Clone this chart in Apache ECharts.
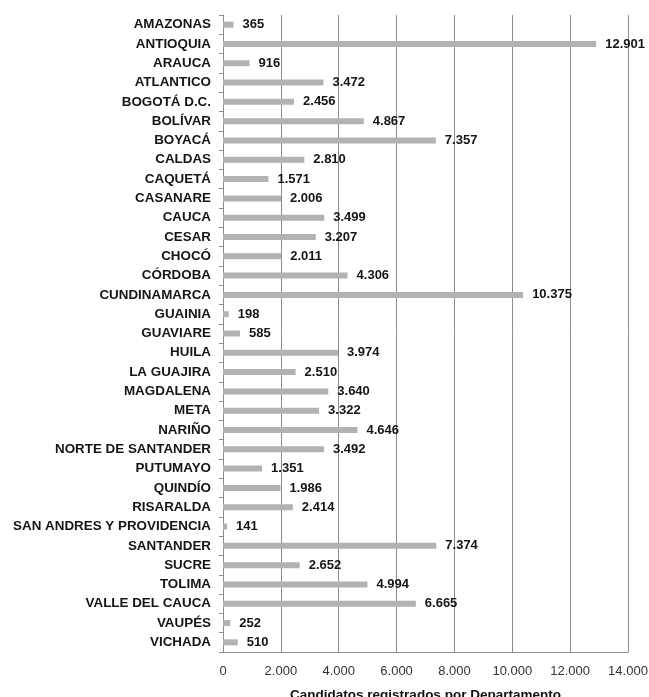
<!DOCTYPE html>
<html>
<head>
<meta charset="utf-8">
<title>Candidatos registrados por Departamento</title>
<script src="https://cdn.jsdelivr.net/npm/echarts@6/dist/echarts.min.js"></script>
<style>
  html, body { margin: 0; padding: 0; background: #ffffff; overflow: hidden; }
  #chart { width: 649px; height: 697px; }
</style>
</head>
<body>
<div id="chart"></div>
<script>
// Departments, top to bottom
const departamentos = [
  'AMAZONAS', 'ANTIOQUIA', 'ARAUCA', 'ATLANTICO', 'BOGOTÁ D.C.', 'BOLÍVAR',
  'BOYACÁ', 'CALDAS', 'CAQUETÁ', 'CASANARE', 'CAUCA', 'CESAR', 'CHOCÓ',
  'CÓRDOBA', 'CUNDINAMARCA', 'GUAINIA', 'GUAVIARE', 'HUILA', 'LA GUAJIRA',
  'MAGDALENA', 'META', 'NARIÑO', 'NORTE DE SANTANDER', 'PUTUMAYO', 'QUINDÍO',
  'RISARALDA', 'SAN ANDRES Y PROVIDENCIA', 'SANTANDER', 'SUCRE', 'TOLIMA',
  'VALLE DEL CAUCA', 'VAUPÉS', 'VICHADA'
];

// Registered candidates per department
const candidatos = [
  365, 12901, 916, 3472, 2456, 4867,
  7357, 2810, 1571, 2006, 3499, 3207, 2011,
  4306, 10375, 198, 585, 3974, 2510,
  3640, 3322, 4646, 3492, 1351, 1986,
  2414, 141, 7374, 2652, 4994,
  6665, 252, 510
];

// Value axis ticks
const ejeMin = 0;
const ejeMax = 14000;
const ejeIntervalo = 2000;

const fmtMiles = v => String(v).replace(/\B(?=(\d{3})+(?!\d))/g, '.');

const fuente = 'Liberation Sans, Arial, sans-serif';

const chart = echarts.init(document.getElementById('chart'), null, { renderer: 'canvas' });

chart.setOption({
  backgroundColor: '#ffffff',
  animation: false,
  grid: {
    left: 223, right: 21, top: 15, bottom: 45,
    containLabel: false,
    outerBoundsMode: 'none'
  },
  xAxis: {
    type: 'value',
    min: ejeMin,
    max: ejeMax,
    interval: ejeIntervalo,
    name: 'Candidatos registrados por Departamento',
    nameLocation: 'middle',
    nameGap: 36,
    nameTextStyle: {
      fontFamily: fuente,
      fontWeight: 'bold',
      fontSize: 13.5,
      color: '#111'
    },
    axisLine: { show: true, lineStyle: { color: '#8c8c8c', width: 1 } },
    axisTick: { show: false },
    axisLabel: {
      margin: 13,
      fontFamily: fuente,
      fontSize: 13,
      color: '#333',
      formatter: v => fmtMiles(v)
    },
    splitLine: { show: true, lineStyle: { color: '#8c8c8c', width: 1 } }
  },
  yAxis: {
    type: 'category',
    inverse: true,
    data: departamentos,
    axisLine: { show: true, lineStyle: { color: '#8c8c8c', width: 1 } },
    axisTick: { show: true, length: 4, lineStyle: { color: '#8c8c8c' } },
    axisLabel: {
      margin: 12,
      fontFamily: fuente,
      fontWeight: 'bold',
      fontSize: 13.4,
      color: '#151515'
    },
    splitLine: { show: false }
  },
  series: [{
    type: 'bar',
    data: candidatos,
    barWidth: 6,
    itemStyle: { color: '#b2b2b2' },
    label: {
      show: true,
      position: 'right',
      distance: 9,
      fontFamily: fuente,
      fontWeight: 'bold',
      fontSize: 13,
      color: '#151515',
      formatter: p => fmtMiles(p.value)
    }
  }]
});
</script>
</body>
</html>
